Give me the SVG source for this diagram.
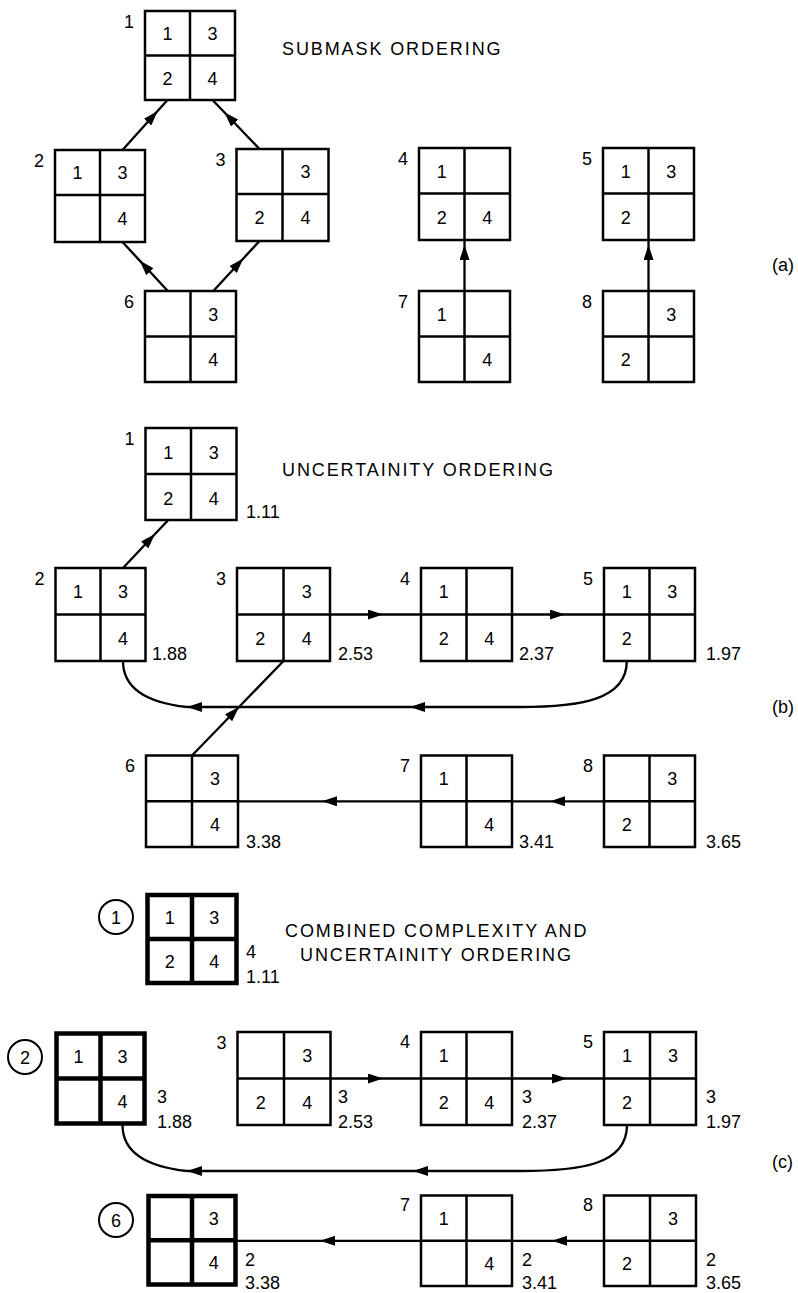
<svg xmlns="http://www.w3.org/2000/svg" width="798" height="1293" viewBox="0 0 798 1293">
<style>
.bg{fill:#fff}
.box{fill:#fff;stroke:#000;stroke-width:2.5}
.in{stroke:#000;stroke-width:2.5}
.bold .box,.bold .in{stroke-width:4.5}
text{font-family:"Liberation Sans",Arial,sans-serif;font-size:18px;fill:#000}
.c{text-anchor:middle}
.e{text-anchor:end}
.ttl{letter-spacing:1.9px}
.cn{fill:none;stroke:#000;stroke-width:2.3}
.am{marker-mid:url(#ah)}
.ae{marker-end:url(#ah)}
.circ{fill:#fff;stroke:#000;stroke-width:2}
</style>
<defs>
<marker id="ah" viewBox="0 0 15 10" refX="15" refY="5" markerWidth="15" markerHeight="10" markerUnits="userSpaceOnUse" orient="auto"><path d="M0,0 L15,5 L0,10 Z" fill="#000"/></marker>
</defs>
<rect class="bg" x="0" y="0" width="798" height="1293"/>

<g id="connectors">
<!-- (a) -->
<path class="cn am" d="M122.5,150 L157.6,111 L167.5,100"/>
<path class="cn am" d="M259.5,149 L224.3,112.3 L212.5,100"/>
<path class="cn am" d="M167.8,291 L139.7,260.6 L122.5,242"/>
<path class="cn am" d="M213.3,291 L243.3,258.5 L259.5,241"/>
<path class="cn am" d="M464.5,291 L464.5,245 L464.5,240"/>
<path class="cn am" d="M648.5,291 L648.5,245 L648.5,240"/>
<!-- (b) -->
<path class="cn am" d="M123,568 L155,534 L168.3,520"/>
<path class="cn am" d="M330,614.5 L383,614.5 L421,614.5"/>
<path class="cn am" d="M512,614.5 L565,614.5 L604,614.5"/>
<path class="cn am" d="M192,755.5 L239,707 L283.5,661"/>
<path class="cn ae" d="M626.8,661 C626.8,700 580,707 520,707 L410,707"/>
<path class="cn ae" d="M410,707 L187,707"/>
<path class="cn" d="M187,707 C150,703 123,690 123,661"/>
<path class="cn am" d="M604,801.3 L550,801.3 L512,801.3"/>
<path class="cn am" d="M421,801.3 L322,801.3 L238,801.3"/>
<!-- (c) -->
<path class="cn am" d="M330.5,1078.5 L383,1078.5 L421,1078.5"/>
<path class="cn am" d="M512,1078.5 L567,1078.5 L604,1078.5"/>
<path class="cn ae" d="M627,1125 C627,1165 580,1171 520,1171 L413,1171"/>
<path class="cn ae" d="M413,1171 L187,1171"/>
<path class="cn" d="M187,1171 C150,1167 122.5,1155 122.5,1125"/>
<path class="cn am" d="M604,1240.8 L552,1240.8 L512,1240.8"/>
<path class="cn am" d="M421,1240.8 L320,1240.8 L235,1240.8"/>
</g>

<!-- ===== (a) SUBMASK ORDERING ===== -->
<text class="ttl" x="282" y="55">SUBMASK ORDERING</text>
<text x="772" y="271">(a)</text>

<g id="a1">
<rect class="box" x="145" y="11" width="90" height="89"/>
<line class="in" x1="190" y1="11" x2="190" y2="100"/><line class="in" x1="145" y1="55.5" x2="235" y2="55.5"/>
<text class="c" x="167.5" y="40">1</text><text class="c" x="212.5" y="40">3</text>
<text class="c" x="167.5" y="84.5">2</text><text class="c" x="212.5" y="84.5">4</text>
<text class="e" x="134" y="28">1</text>
</g>
<g id="a2">
<rect class="box" x="55" y="150" width="90" height="92"/>
<line class="in" x1="100" y1="150" x2="100" y2="242"/><line class="in" x1="55" y1="195" x2="145" y2="195"/>
<text class="c" x="77.5" y="179">1</text><text class="c" x="122.5" y="179">3</text>
<text class="c" x="122.5" y="225">4</text>
<text class="e" x="44" y="167">2</text>
</g>
<g id="a3">
<rect class="box" x="236.5" y="149" width="92" height="92"/>
<line class="in" x1="282.5" y1="149" x2="282.5" y2="241"/><line class="in" x1="236.5" y1="194" x2="328.5" y2="194"/>
<text class="c" x="305.5" y="178">3</text>
<text class="c" x="259.5" y="224">2</text><text class="c" x="305.5" y="224">4</text>
<text class="e" x="225.5" y="166">3</text>
</g>
<g id="a6">
<rect class="box" x="145" y="291" width="91" height="91"/>
<line class="in" x1="190.5" y1="291" x2="190.5" y2="382"/><line class="in" x1="145" y1="336.5" x2="236" y2="336.5"/>
<text class="c" x="213.3" y="320.5">3</text>
<text class="c" x="213.3" y="366">4</text>
<text class="e" x="134" y="308">6</text>
</g>
<g id="a4">
<rect class="box" x="419" y="148" width="91" height="92"/>
<line class="in" x1="464.5" y1="148" x2="464.5" y2="240"/><line class="in" x1="419" y1="193.5" x2="510" y2="193.5"/>
<text class="c" x="441.8" y="177.5">1</text>
<text class="c" x="441.8" y="223.5">2</text><text class="c" x="487.3" y="223.5">4</text>
<text class="e" x="408" y="165">4</text>
</g>
<g id="a7">
<rect class="box" x="419" y="291" width="91" height="91"/>
<line class="in" x1="464.5" y1="291" x2="464.5" y2="382"/><line class="in" x1="419" y1="336.5" x2="510" y2="336.5"/>
<text class="c" x="441.8" y="320.5">1</text>
<text class="c" x="487.3" y="366">4</text>
<text class="e" x="408" y="308">7</text>
</g>
<g id="a5">
<rect class="box" x="603" y="148" width="91" height="92"/>
<line class="in" x1="648.5" y1="148" x2="648.5" y2="240"/><line class="in" x1="603" y1="193.5" x2="694" y2="193.5"/>
<text class="c" x="625.8" y="177.5">1</text><text class="c" x="671.3" y="177.5">3</text>
<text class="c" x="625.8" y="223.5">2</text>
<text class="e" x="592" y="165">5</text>
</g>
<g id="a8">
<rect class="box" x="603" y="291" width="91" height="91"/>
<line class="in" x1="648.5" y1="291" x2="648.5" y2="382"/><line class="in" x1="603" y1="336.5" x2="694" y2="336.5"/>
<text class="c" x="671.3" y="320.5">3</text>
<text class="c" x="625.8" y="366">2</text>
<text class="e" x="592" y="308">8</text>
</g>

<!-- ===== (b) UNCERTAINITY ORDERING ===== -->
<text class="ttl" x="282" y="476">UNCERTAINITY ORDERING</text>
<text x="772" y="713">(b)</text>

<g id="b1">
<rect class="box" x="145.5" y="428" width="91" height="92"/>
<line class="in" x1="191" y1="428" x2="191" y2="520"/><line class="in" x1="145.5" y1="474" x2="236.5" y2="474"/>
<text class="c" x="168.3" y="459">1</text><text class="c" x="213.8" y="459">3</text>
<text class="c" x="168.3" y="505">2</text><text class="c" x="213.8" y="505">4</text>
<text class="e" x="134.5" y="445">1</text>
<text x="246" y="518">1.11</text>
</g>
<g id="b2">
<rect class="box" x="55.5" y="568" width="90" height="93"/>
<line class="in" x1="100.5" y1="568" x2="100.5" y2="661"/><line class="in" x1="55.5" y1="614.5" x2="145.5" y2="614.5"/>
<text class="c" x="78" y="598">1</text><text class="c" x="123" y="598">3</text>
<text class="c" x="123" y="645">4</text>
<text class="e" x="44.5" y="585">2</text>
<text x="152" y="660">1.88</text>
</g>
<g id="b3">
<rect class="box" x="237" y="568" width="93" height="93"/>
<line class="in" x1="283.5" y1="568" x2="283.5" y2="661"/><line class="in" x1="237" y1="614.5" x2="330" y2="614.5"/>
<text class="c" x="306.8" y="598">3</text>
<text class="c" x="260.3" y="645">2</text><text class="c" x="306.8" y="645">4</text>
<text class="e" x="226" y="585">3</text>
<text x="338" y="660">2.53</text>
</g>
<g id="b4">
<rect class="box" x="421" y="568" width="91" height="93"/>
<line class="in" x1="466.5" y1="568" x2="466.5" y2="661"/><line class="in" x1="421" y1="614.5" x2="512" y2="614.5"/>
<text class="c" x="443.8" y="598">1</text>
<text class="c" x="443.8" y="645">2</text><text class="c" x="489.3" y="645">4</text>
<text class="e" x="410" y="585">4</text>
<text x="519" y="660">2.37</text>
</g>
<g id="b5">
<rect class="box" x="604" y="568" width="91" height="93"/>
<line class="in" x1="649.5" y1="568" x2="649.5" y2="661"/><line class="in" x1="604" y1="614.5" x2="695" y2="614.5"/>
<text class="c" x="626.8" y="598">1</text><text class="c" x="672.3" y="598">3</text>
<text class="c" x="626.8" y="645">2</text>
<text class="e" x="593" y="585">5</text>
<text x="706" y="660">1.97</text>
</g>
<g id="b6">
<rect class="box" x="146" y="755.5" width="92" height="91.5"/>
<line class="in" x1="192" y1="755.5" x2="192" y2="847"/><line class="in" x1="146" y1="801.3" x2="238" y2="801.3"/>
<text class="c" x="215" y="785">3</text>
<text class="c" x="215" y="831">4</text>
<text class="e" x="135" y="772">6</text>
<text x="246" y="848">3.38</text>
</g>
<g id="b7">
<rect class="box" x="421" y="755.5" width="91" height="91.5"/>
<line class="in" x1="466.5" y1="755.5" x2="466.5" y2="847"/><line class="in" x1="421" y1="801.3" x2="512" y2="801.3"/>
<text class="c" x="443.8" y="785">1</text>
<text class="c" x="489.3" y="831">4</text>
<text class="e" x="410" y="772">7</text>
<text x="519" y="848">3.41</text>
</g>
<g id="b8">
<rect class="box" x="604" y="755.5" width="91" height="91.5"/>
<line class="in" x1="649.5" y1="755.5" x2="649.5" y2="847"/><line class="in" x1="604" y1="801.3" x2="695" y2="801.3"/>
<text class="c" x="672.3" y="785">3</text>
<text class="c" x="626.8" y="831">2</text>
<text class="e" x="593" y="772">8</text>
<text x="706" y="848">3.65</text>
</g>

<!-- ===== (c) COMBINED ===== -->
<text class="ttl" x="285" y="937">COMBINED COMPLEXITY AND</text>
<text class="ttl" x="300" y="961">UNCERTAINITY ORDERING</text>
<text x="772" y="1168">(c)</text>

<g id="c1" class="bold">
<rect class="box" x="147.5" y="895" width="89" height="88"/>
<line class="in" x1="192" y1="895" x2="192" y2="983"/><line class="in" x1="147.5" y1="939" x2="236.5" y2="939"/>
<text class="c" x="169.8" y="924">1</text><text class="c" x="214.3" y="924">3</text>
<text class="c" x="169.8" y="968">2</text><text class="c" x="214.3" y="968">4</text>
<circle class="circ" cx="116" cy="917" r="17"/><text class="c" x="116" y="923.5">1</text>
<text x="246" y="958">4</text><text x="246" y="983">1.11</text>
</g>
<g id="c2" class="bold">
<rect class="box" x="56.5" y="1033.5" width="88" height="90"/>
<line class="in" x1="100.5" y1="1033.5" x2="100.5" y2="1123.5"/><line class="in" x1="56.5" y1="1078.5" x2="144.5" y2="1078.5"/>
<text class="c" x="78.5" y="1063">1</text><text class="c" x="122.5" y="1063">3</text>
<text class="c" x="122.5" y="1108">4</text>
<circle class="circ" cx="25" cy="1057" r="17"/><text class="c" x="25" y="1063.5">2</text>
<text x="157" y="1103">3</text><text x="157" y="1128">1.88</text>
</g>
<g id="c3">
<rect class="box" x="237.5" y="1032" width="93" height="93"/>
<line class="in" x1="284" y1="1032" x2="284" y2="1125"/><line class="in" x1="237.5" y1="1078.5" x2="330.5" y2="1078.5"/>
<text class="c" x="307.3" y="1062">3</text>
<text class="c" x="260.8" y="1109">2</text><text class="c" x="307.3" y="1109">4</text>
<text class="e" x="226.5" y="1049">3</text>
<text x="338" y="1103">3</text><text x="338" y="1128">2.53</text>
</g>
<g id="c4">
<rect class="box" x="421" y="1032" width="91" height="93"/>
<line class="in" x1="466.5" y1="1032" x2="466.5" y2="1125"/><line class="in" x1="421" y1="1078.5" x2="512" y2="1078.5"/>
<text class="c" x="443.8" y="1062">1</text>
<text class="c" x="443.8" y="1109">2</text><text class="c" x="489.3" y="1109">4</text>
<text class="e" x="410" y="1048">4</text>
<text x="522" y="1103">3</text><text x="522" y="1128">2.37</text>
</g>
<g id="c5">
<rect class="box" x="604" y="1032" width="92" height="93"/>
<line class="in" x1="650" y1="1032" x2="650" y2="1125"/><line class="in" x1="604" y1="1078.5" x2="696" y2="1078.5"/>
<text class="c" x="627" y="1062">1</text><text class="c" x="673" y="1062">3</text>
<text class="c" x="627" y="1109">2</text>
<text class="e" x="593" y="1048">5</text>
<text x="706" y="1103">3</text><text x="706" y="1128">1.97</text>
</g>
<g id="c6" class="bold">
<rect class="box" x="148.5" y="1196" width="87" height="88.5"/>
<line class="in" x1="192" y1="1196" x2="192" y2="1284.5"/><line class="in" x1="148.5" y1="1240.3" x2="235.5" y2="1240.3"/>
<text class="c" x="213.8" y="1225">3</text>
<text class="c" x="213.8" y="1269">4</text>
<circle class="circ" cx="116" cy="1220" r="17"/><text class="c" x="116" y="1226.5">6</text>
<text x="245" y="1266">2</text><text x="245" y="1289">3.38</text>
</g>
<g id="c7">
<rect class="box" x="421" y="1195.5" width="91" height="90.5"/>
<line class="in" x1="466.5" y1="1195.5" x2="466.5" y2="1286"/><line class="in" x1="421" y1="1240.8" x2="512" y2="1240.8"/>
<text class="c" x="443.8" y="1225">1</text>
<text class="c" x="489.3" y="1270">4</text>
<text class="e" x="410" y="1211">7</text>
<text x="522" y="1266">2</text><text x="522" y="1289">3.41</text>
</g>
<g id="c8">
<rect class="box" x="604" y="1195.5" width="92" height="90.5"/>
<line class="in" x1="650" y1="1195.5" x2="650" y2="1286"/><line class="in" x1="604" y1="1240.8" x2="696" y2="1240.8"/>
<text class="c" x="673" y="1225">3</text>
<text class="c" x="627" y="1270">2</text>
<text class="e" x="593" y="1211">8</text>
<text x="706" y="1266">2</text><text x="706" y="1289">3.65</text>
</g>
</svg>
